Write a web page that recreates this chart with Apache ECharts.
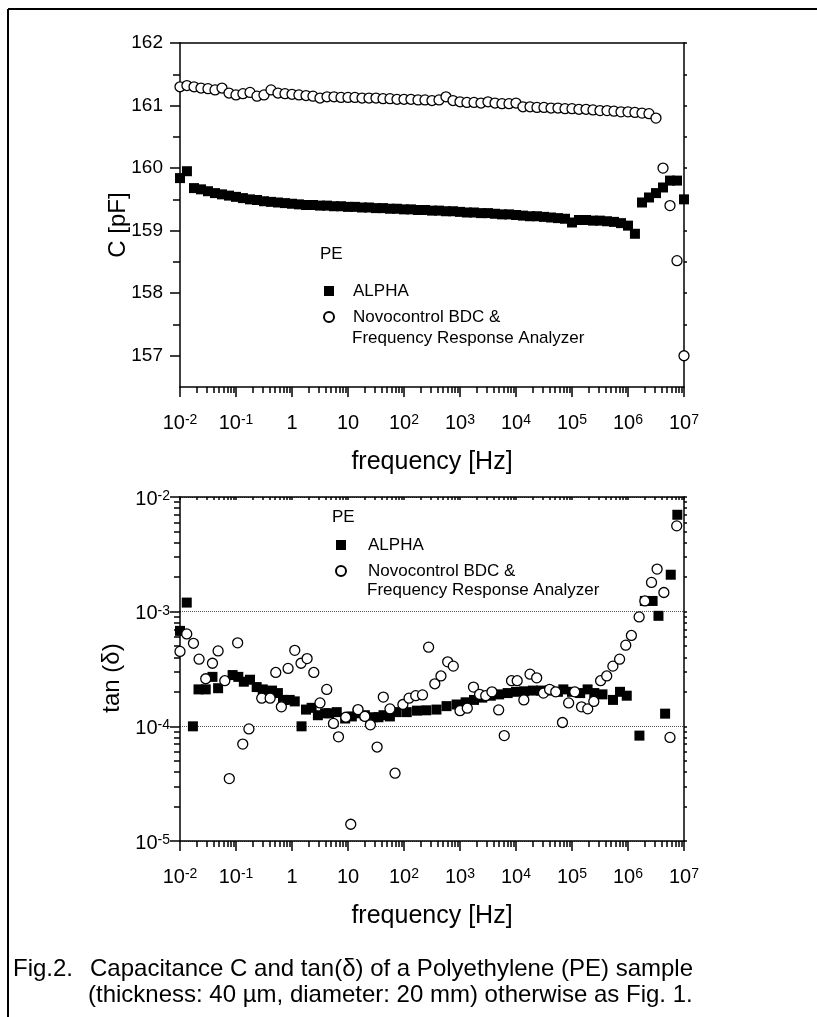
<!DOCTYPE html>
<html lang="en">
<head>
<meta charset="UTF-8">
<title>PE capacitance and tan delta</title>
<script src="https://cdn.jsdelivr.net/npm/echarts@6/dist/echarts.min.js"></script>
<style>
  html, body { margin: 0; padding: 0; background: #fff; }
  #main { width: 817px; height: 1017px; }
</style>
</head>
<body>
<div id="main"></div>
<script>
// C(f) sweep, 8 points per decade
var fGrid = [
  0.01, 0.0133, 0.0178, 0.0237, 0.0316, 0.0422, 0.0562, 0.075,
  0.1, 0.133, 0.178, 0.237, 0.316, 0.422, 0.562, 0.75,
  1, 1.33, 1.78, 2.37, 3.16, 4.22, 5.62, 7.5,
  10, 13.3, 17.8, 23.7, 31.6, 42.2, 56.2, 75,
  100, 133, 178, 237, 316, 422, 562, 750,
  1000, 1330, 1780, 2370, 3160, 4220, 5620, 7500,
  1e4, 1.33e4, 1.78e4, 2.37e4, 3.16e4, 4.22e4, 5.62e4, 7.5e4,
  1e5, 1.33e5, 1.78e5, 2.37e5, 3.16e5, 4.22e5, 5.62e5, 7.5e5,
  1e6, 1.33e6, 1.78e6, 2.37e6, 3.16e6, 4.22e6, 5.62e6, 7.5e6,
  1e7
];
var cAlpha = [
  159.84, 159.95, 159.68, 159.66, 159.63, 159.60, 159.58, 159.56,
  159.54, 159.52, 159.50, 159.49, 159.47, 159.46, 159.45, 159.44,
  159.43, 159.42, 159.41, 159.41, 159.40, 159.40, 159.39, 159.39,
  159.38, 159.38, 159.37, 159.37, 159.36, 159.36, 159.35, 159.35,
  159.34, 159.34, 159.33, 159.33, 159.32, 159.32, 159.31, 159.31,
  159.30, 159.29, 159.29, 159.28, 159.28, 159.27, 159.26, 159.26,
  159.25, 159.24, 159.23, 159.23, 159.22, 159.21, 159.20, 159.19,
  159.13, 159.17, 159.17, 159.16, 159.16, 159.15, 159.14, 159.12,
  159.08, 158.95, 159.45, 159.53, 159.60, 159.69, 159.80, 159.80,
  159.50
];
var cNovo = [
  161.30, 161.32, 161.30, 161.28, 161.27, 161.25, 161.28, 161.20,
  161.17, 161.19, 161.21, 161.15, 161.17, 161.25, 161.20, 161.19,
  161.18, 161.17, 161.16, 161.15, 161.12, 161.14, 161.14, 161.13,
  161.13, 161.13, 161.12, 161.12, 161.12, 161.11, 161.11, 161.10,
  161.10, 161.10, 161.09, 161.09, 161.08, 161.09, 161.14, 161.08,
  161.06, 161.05, 161.05, 161.04, 161.06, 161.04, 161.03, 161.03,
  161.04, 160.98, 160.98, 160.97, 160.97, 160.96, 160.96, 160.95,
  160.95, 160.94, 160.94, 160.93, 160.92, 160.92, 160.91, 160.90,
  160.90, 160.89, 160.88, 160.87, 160.80, 160.00, 159.40, 158.52,
  157.00
];

// tan(delta), ALPHA
var tanAlphaF = [
  0.01, 0.0132, 0.017, 0.0214, 0.0288, 0.038, 0.0479, 0.087, 0.11, 0.138,
  0.178, 0.234, 0.3, 0.44, 0.56, 0.69, 0.91, 1.12, 1.48, 1.78,
  2.24, 2.9, 3.9, 4.6, 6.3, 8.9, 11.7, 14.8, 20, 28,
  35, 43, 56, 74, 112, 170, 250, 380, 575, 870,
  1260, 1780, 2500, 3550, 5000, 7100, 1e4, 1.4e4, 2e4, 2.8e4,
  4e4, 5.6e4, 7e4, 1e5, 1.4e5, 1.9e5, 2.5e5, 3.5e5, 5.4e5, 7.2e5,
  9.5e5, 1.6e6, 2.0e6, 2.75e6, 3.5e6, 4.6e6, 5.8e6, 7.6e6
];
var tanAlpha = [
  6.8e-4, 1.2e-3, 1.0e-4, 2.1e-4, 2.1e-4, 2.7e-4, 2.15e-4, 2.8e-4, 2.7e-4, 2.45e-4,
  2.55e-4, 2.2e-4, 2.1e-4, 2.05e-4, 1.95e-4, 1.7e-4, 1.7e-4, 1.65e-4, 1.0e-4, 1.4e-4,
  1.45e-4, 1.25e-4, 1.3e-4, 1.3e-4, 1.33e-4, 1.17e-4, 1.22e-4, 1.3e-4, 1.25e-4, 1.2e-4,
  1.2e-4, 1.25e-4, 1.22e-4, 1.33e-4, 1.33e-4, 1.37e-4, 1.38e-4, 1.4e-4, 1.5e-4, 1.55e-4,
  1.62e-4, 1.7e-4, 1.78e-4, 1.85e-4, 1.9e-4, 1.95e-4, 2.0e-4, 2.02e-4, 2.05e-4, 2.05e-4,
  2.05e-4, 2.0e-4, 2.1e-4, 2.0e-4, 1.95e-4, 2.1e-4, 1.95e-4, 1.9e-4, 1.7e-4, 2.0e-4,
  1.85e-4, 8.3e-5, 1.24e-3, 1.24e-3, 9.2e-4, 1.29e-4, 2.1e-3, 7.0e-3
];

// tan(delta), Novocontrol
var tanNovoF = [
  0.01, 0.0132, 0.0174, 0.0219, 0.0288, 0.038, 0.0479, 0.0631, 0.0759, 0.107,
  0.132, 0.17, 0.288, 0.407, 0.513, 0.646, 0.851, 1.12, 1.45, 1.86,
  2.45, 3.16, 4.17, 5.5, 6.76, 9.12, 11.2, 15.1, 20, 25.1,
  33.1, 42.7, 56.2, 69.2, 95.5, 123, 162, 214, 275, 355,
  457, 603, 759, 1000, 1350, 1740, 2240, 2880, 3720, 4900,
  6170, 8320, 1.05e4, 1.38e4, 1.78e4, 2.34e4, 3.09e4, 3.98e4, 5.13e4, 6.76e4,
  8.71e4, 1.12e5, 1.48e5, 1.91e5, 2.45e5, 3.24e5, 4.17e5, 5.37e5, 7.08e5, 9.12e5,
  1.15e6, 1.58e6, 2.0e6, 2.63e6, 3.31e6, 4.37e6, 5.62e6, 7.41e6
];
var tanNovo = [
  4.5e-4, 6.4e-4, 5.3e-4, 3.85e-4, 2.6e-4, 3.55e-4, 4.55e-4, 2.5e-4, 3.5e-5, 5.35e-4,
  7.0e-5, 9.5e-5, 1.76e-4, 1.76e-4, 2.95e-4, 1.48e-4, 3.2e-4, 4.6e-4, 3.55e-4, 3.9e-4,
  2.95e-4, 1.6e-4, 2.1e-4, 1.06e-4, 8.1e-5, 1.2e-4, 1.4e-5, 1.4e-4, 1.22e-4, 1.03e-4,
  6.6e-5, 1.8e-4, 1.42e-4, 3.9e-5, 1.55e-4, 1.76e-4, 1.85e-4, 1.88e-4, 4.9e-4, 2.35e-4,
  2.75e-4, 3.65e-4, 3.35e-4, 1.37e-4, 1.44e-4, 2.2e-4, 1.9e-4, 1.85e-4, 2.0e-4, 1.39e-4,
  8.3e-5, 2.5e-4, 2.5e-4, 1.7e-4, 2.85e-4, 2.65e-4, 1.95e-4, 2.1e-4, 2.0e-4, 1.08e-4,
  1.6e-4, 2.0e-4, 1.48e-4, 1.42e-4, 1.65e-4, 2.5e-4, 2.75e-4, 3.35e-4, 3.85e-4, 5.1e-4,
  6.2e-4, 9.0e-4, 1.24e-3, 1.8e-3, 2.35e-3, 1.47e-3, 8.0e-5, 5.6e-3
];

// ticks
var decades = [0.01, 0.1, 1, 10, 100, 1e3, 1e4, 1e5, 1e6, 1e7];
var decadeLabels = ['{b|10}{e|-2}', '{b|10}{e|-1}', '{b|1}', '{b|10}', '{b|10}{e|2}',
  '{b|10}{e|3}', '{b|10}{e|4}', '{b|10}{e|5}', '{b|10}{e|6}', '{b|10}{e|7}'];
var minorSteps = [2, 3, 4, 5, 6, 7, 8, 9];
var cTicks = [157, 158, 159, 160, 161, 162];
var cHalfTicks = [157.5, 158.5, 159.5, 160.5, 161.5];
var tanDecades = [1e-5, 1e-4, 1e-3, 1e-2];
var tanLabels = ['{b|10}{e|-5}', '{b|10}{e|-4}', '{b|10}{e|-3}', '{b|10}{e|-2}'];

function minorsOf(list) {
  var out = [];
  list.slice(0, -1).forEach(function (d) {
    minorSteps.forEach(function (m) { out.push(m * d); });
  });
  return out;
}
var xMinor = minorsOf(decades);
var tanMinor = minorsOf(tanDecades);

var black = '#000';
var font = "'Liberation Sans', Arial, sans-serif";

function labelFor(values, texts) {
  return function (v) {
    for (var i = 0; i < values.length; i++) {
      if (Math.abs(v / values[i] - 1) < 1e-6) return texts[i];
    }
    return '';
  };
}

var tickRich = {
  b: { fontSize: 20, lineHeight: 20, padding: [9, 0, 0, 0], verticalAlign: 'bottom', fontFamily: font, color: black },
  e: { fontSize: 14, lineHeight: 14, verticalAlign: 'top', fontFamily: font, color: black }
};

function bareAxis(type, grid, pos, min, max) {
  return {
    type: type, gridIndex: grid, position: pos, min: min, max: max,
    axisLine: { show: false, onZero: false, lineStyle: { color: black, width: 1.5 } },
    axisTick: { show: false },
    axisLabel: { show: false },
    splitLine: { show: false },
    minorTick: { show: false },
    silent: true
  };
}
function ticks(values, length, inside) {
  return { show: true, customValues: values, length: length, inside: !!inside,
    lineStyle: { color: black, width: 1.5 } };
}
function nameOn(axis, text, gap, size, pad) {
  axis.name = text;
  axis.nameLocation = 'middle';
  axis.nameGap = gap;
  axis.nameMoveOverlap = false;
  axis.nameTextStyle = { fontSize: size, fontFamily: font, color: black, padding: pad || 0 };
}

// x axes: major+labels, minor ticks, mirror spine; for each grid
function xAxesFor(grid, topTicks) {
  var major = bareAxis('log', grid, 'bottom', 0.01, 1e7);
  major.axisLine.show = true;
  major.axisTick = ticks(decades, 10);
  major.axisLabel = { show: true, customValues: decades, formatter: labelFor(decades, decadeLabels),
    margin: 26, rich: tickRich };
  nameOn(major, 'frequency [Hz]', 63, 25);

  var minor = bareAxis('log', grid, 'bottom', 0.01, 1e7);
  minor.axisTick = ticks(xMinor, 6);

  var mirror = bareAxis('log', grid, 'top', 0.01, 1e7);
  mirror.axisLine.show = true;
  if (topTicks) mirror.axisTick = ticks(decades.concat(xMinor), 3, true);
  return [major, minor, mirror];
}

var yC = bareAxis('value', 0, 'left', 156.5, 162);
yC.axisLine.show = true;
yC.axisTick = ticks(cTicks, 10);
yC.axisLabel = { show: true, customValues: cTicks, margin: 17, fontSize: 19, fontFamily: font, color: black };
nameOn(yC, 'C [pF]', 50, 24, [0, 20, 0, 0]);
var yCMinor = bareAxis('value', 0, 'left', 156.5, 162);
yCMinor.axisTick = ticks(cHalfTicks, 7);
var yCRight = bareAxis('value', 0, 'right', 156.5, 162);
yCRight.axisLine.show = true;
yCRight.axisTick = ticks(cTicks.concat(cHalfTicks), 3);

var yT = bareAxis('log', 1, 'left', 1e-5, 1e-2);
yT.axisLine.show = true;
yT.axisTick = ticks(tanDecades, 10);
yT.axisLabel = { show: true, customValues: tanDecades, formatter: labelFor(tanDecades, tanLabels),
  margin: 10, padding: [4, 0, 0, 0], rich: tickRich };
yT.splitLine = { show: true, lineStyle: { type: 'dotted', color: '#555', width: 1 } };
nameOn(yT, 'tan (\u03b4)', 56, 24, [0, 18, 0, 0]);
var yTMinor = bareAxis('log', 1, 'left', 1e-5, 1e-2);
yTMinor.axisTick = ticks(tanMinor, 6);
var yTRight = bareAxis('log', 1, 'right', 1e-5, 1e-2);
yTRight.axisLine.show = true;
yTRight.axisTick = ticks(tanDecades.concat(tanMinor), 3);

function pairs(xs, ys) {
  return xs.map(function (x, i) { return [x, ys[i]]; });
}

var squareStyle = { color: black, opacity: 1 };
var circleStyle = { color: '#fff', borderColor: black, borderWidth: 1.3, opacity: 1 };

function scatter(name, xi, yi, symbol, style, data) {
  return {
    name: name, type: 'scatter', xAxisIndex: xi, yAxisIndex: yi,
    symbol: symbol, symbolSize: 10, itemStyle: style, data: data,
    clip: false, silent: true, emphasis: { disabled: true }
  };
}

function legendAt(left, top, gap) {
  return {
    left: left, top: top, orient: 'vertical', itemWidth: 10, itemHeight: 10, itemGap: 6,
    selectedMode: false, data: ['ALPHA', 'Novocontrol BDC &'],
    textStyle: { fontSize: 17, fontFamily: font, color: black, lineHeight: 20, padding: [0, 0, 0, gap] }
  };
}

function txt(x, y, s, size) {
  return { type: 'text', x: x, y: y, silent: true,
    style: { text: s, fontSize: size, fontFamily: font, fill: black, verticalAlign: 'middle' } };
}

var chart = echarts.init(document.getElementById('main'), null, { renderer: 'canvas' });
chart.setOption({
  animation: false,
  backgroundColor: '#fff',
  textStyle: { fontFamily: font },
  grid: [
    { left: 180, top: 43, width: 504, height: 344, outerBoundsMode: 'none' },
    { left: 180, top: 497, width: 504, height: 344, outerBoundsMode: 'none' }
  ],
  xAxis: xAxesFor(0, false).concat(xAxesFor(1, true)),
  yAxis: [yC, yCMinor, yCRight, yT, yTMinor, yTRight],
  legend: [legendAt(318, 276, 14), legendAt(330, 530, 17)],
  series: [
    scatter('ALPHA', 0, 0, 'rect', squareStyle, pairs(fGrid, cAlpha)),
    scatter('Novocontrol BDC &', 0, 0, 'circle', circleStyle, pairs(fGrid, cNovo)),
    scatter('ALPHA', 3, 3, 'rect', squareStyle, pairs(tanAlphaF, tanAlpha)),
    scatter('Novocontrol BDC &', 3, 3, 'circle', circleStyle, pairs(tanNovoF, tanNovo))
  ],
  graphic: [
    { type: 'line', silent: true, shape: { x1: 8, y1: 9, x2: 817, y2: 9 }, style: { stroke: black, lineWidth: 2 } },
    { type: 'line', silent: true, shape: { x1: 8, y1: 9, x2: 8, y2: 1017 }, style: { stroke: black, lineWidth: 2 } },
    txt(320, 254, 'PE', 17),
    txt(352, 338, 'Frequency Response Analyzer', 17),
    txt(332, 517, 'PE', 17),
    txt(367, 590, 'Frequency Response Analyzer', 17),
    txt(13, 969, 'Fig.2.', 24),
    txt(90, 969, 'Capacitance C and tan(\u03b4) of a Polyethylene (PE) sample', 24),
    txt(88, 995, '(thickness: 40 \u00b5m, diameter: 20 mm) otherwise as Fig. 1.', 24)
  ]
});
</script>
</body>
</html>
